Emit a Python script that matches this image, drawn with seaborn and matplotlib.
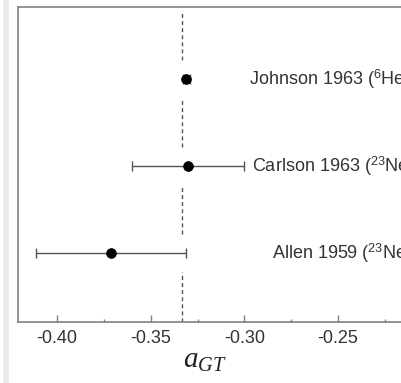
import matplotlib
matplotlib.use("Agg")
import matplotlib.pyplot as plt
from matplotlib.patches import Rectangle
from matplotlib.ticker import FixedLocator, FormatStrFormatter
import seaborn as sns
import pandas as pd

# ---- data ----
studies = ["Johnson 1963", "Carlson 1963", "Allen 1959"]
labels = [r"Johnson 1963 ($^{6}$He)", r"Carlson 1963 ($^{23}$Ne)", r"Allen 1959 ($^{23}$Ne)"]
a_gt = [-0.331, -0.330, -0.371]
a_err = [0.002, 0.030, 0.040]
row = [3, 2, 1]
label_x = [-0.2973, -0.2960, -0.2850]
reference_value = -1.0 / 3.0
xticks = [-0.40, -0.35, -0.30, -0.25]
minor_xticks = [-0.425, -0.375, -0.325, -0.275, -0.225, -0.175]

df = pd.DataFrame({"study": studies, "a_gt": a_gt, "err": a_err, "row": row})

sns.set_style("ticks")
plt.rcParams["font.family"] = ["Liberation Sans", "DejaVu Sans"]
plt.rcParams["mathtext.fontset"] = "custom"
plt.rcParams["mathtext.rm"] = "Liberation Sans"
plt.rcParams["mathtext.it"] = "Liberation Serif:italic"
plt.rcParams["mathtext.bf"] = "Liberation Sans:bold"

W, H = 402, 383
fig = plt.figure(figsize=(W / 100, H / 100), dpi=100)
fig.patches.append(Rectangle((3 / W, 0), 6 / W, 1, transform=fig.transFigure,
                             facecolor="#ebebeb", edgecolor="none", zorder=0))

ax_left, ax_right_px = 17.5, 525
ax_bottom, ax_top = 322, 7
ax = fig.add_axes([ax_left / W, 1 - ax_bottom / H, (ax_right_px - ax_left) / W, (ax_bottom - ax_top) / H])

xmin = -0.40 - (57 - ax_left) / 1874
xmax = -0.25 + (ax_right_px - 338) / 1874
ax.set_xlim(xmin, xmax)
ax.set_ylim(0.207, 3.83)

# dashed reference line, interrupted around the rows
segs = [(3.22, 3.76), (2.22, 2.78), (1.22, 1.78), (0.207, 0.78)]
for lo, hi in segs:
    ax.plot([reference_value, reference_value], [lo, hi], color="#555555", lw=1.0,
            linestyle=(0, (2.9, 2.2)), zorder=1)

ax.errorbar(df["a_gt"], df["row"], xerr=df["err"], fmt="none", ecolor="#555555",
            elinewidth=1.0, capsize=3.5, capthick=1.0, zorder=2)
sns.scatterplot(data=df, x="a_gt", y="row", color="black", s=50, edgecolor="black",
                linewidth=0.5, ax=ax, zorder=3, legend=False)

for lx, r, lab in zip(label_x, row, labels):
    ax.text(lx, r, lab, ha="left", va="center", fontsize=13, color="#333333")

ax.set_xticks(xticks)
ax.xaxis.set_major_formatter(FormatStrFormatter("%.2f"))
ax.xaxis.set_minor_locator(FixedLocator(minor_xticks))
ax.set_yticks([])
ax.tick_params(axis="x", which="major", direction="in", length=5, width=1, color="#808080",
               labelsize=13, labelcolor="#333333", pad=6)
ax.tick_params(axis="x", which="minor", direction="in", length=2.5, width=1, color="#808080")
ax.set_xlabel("")
ax.set_ylabel("")
for s in ["left", "bottom", "top", "right"]:
    ax.spines[s].set_color("#808080")
    ax.spines[s].set_linewidth(1.2)

fig.text(205 / W, 1 - 368 / H, r"$a_{GT}$", ha="center", va="baseline", fontsize=21, color="#222222")

fig.savefig("out.png", dpi=100)
